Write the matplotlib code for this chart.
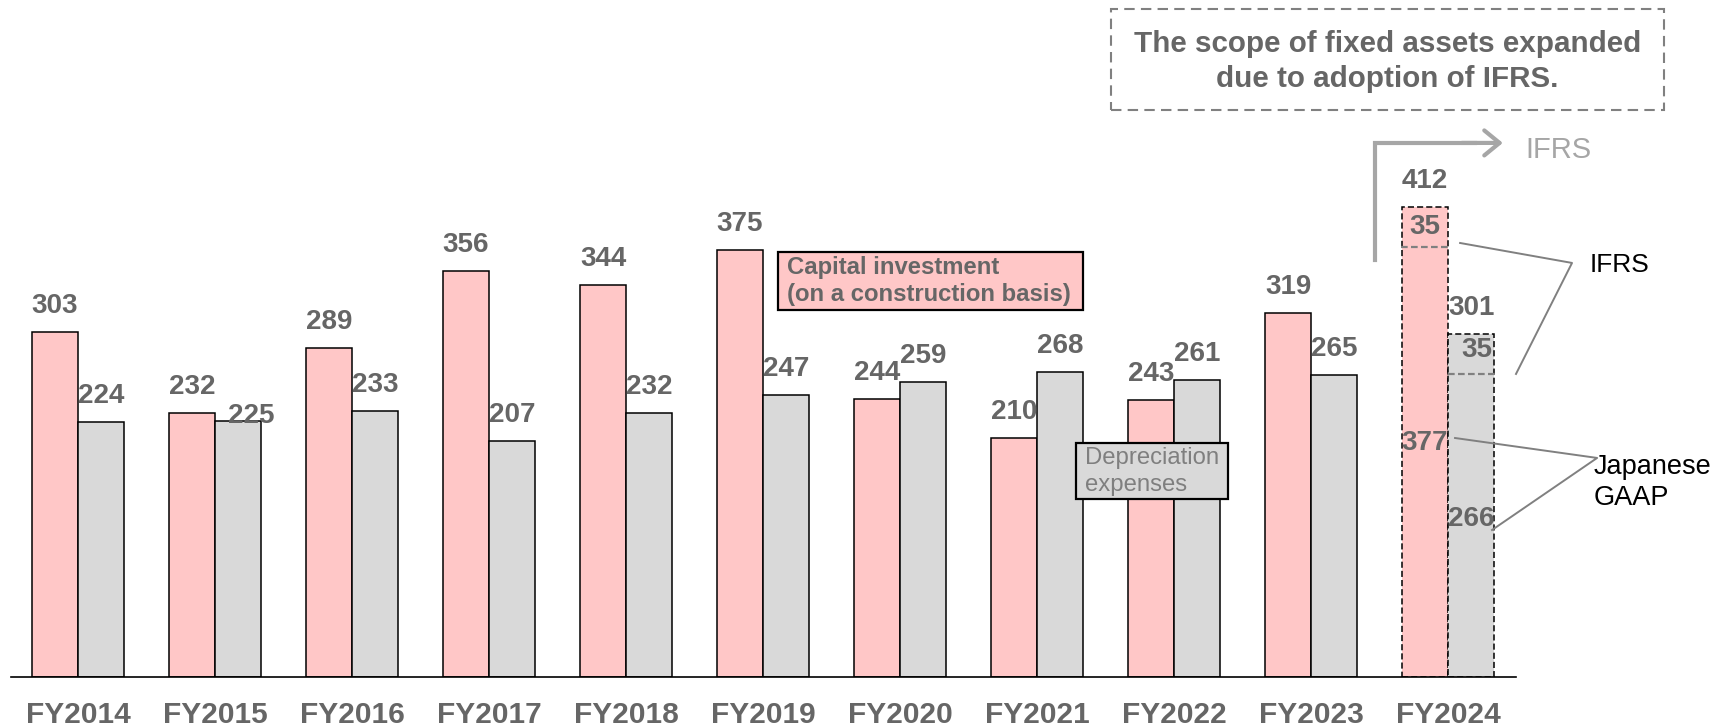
import matplotlib

matplotlib.use("Agg")
import matplotlib.pyplot as plt
import numpy as np
from matplotlib.patches import Rectangle

# values (100 million yen)
years = ["FY2014", "FY2015", "FY2016", "FY2017", "FY2018", "FY2019",
         "FY2020", "FY2021", "FY2022", "FY2023", "FY2024"]
capex = [303, 232, 289, 356, 344, 375, 244, 210, 243, 319, 412]
depreciation = [224, 225, 233, 207, 232, 247, 259, 268, 261, 265, 301]
capex_jgaap_2024 = 377
depr_jgaap_2024 = 266
ifrs_effect = [35, 35]

PINK = "#FFC7C7"
GREY = "#D9D9D9"
TEXT = "#666666"
LINE = "#808080"

plt.rcParams["font.family"] = ["Liberation Sans", "DejaVu Sans"]

fig = plt.figure(figsize=(17.22, 7.27), dpi=100)
ax = fig.add_axes([11 / 1722, 50 / 727, 1505 / 1722, 677 / 727])

x = np.arange(len(years))
w = 0.336
cap_bars = ax.bar(x - w / 2, capex, w, color=PINK, edgecolor="black", linewidth=1.1, zorder=2)
dep_bars = ax.bar(x + w / 2, depreciation, w, color=GREY, edgecolor="black", linewidth=1.1, zorder=2)
for b in (cap_bars[-1], dep_bars[-1]):
    b.set_linestyle((0, (4, 2)))

# boundary between Japanese GAAP part and IFRS adjustment in FY2024
last = x[-1]
ax.plot([last - w - 0.01, last], [capex_jgaap_2024] * 2, color=LINE, lw=1.6,
        ls=(0, (3, 1.5)), zorder=3)
ax.plot([last, last + w + 0.01], [depr_jgaap_2024] * 2, color=LINE, lw=1.6,
        ls=(0, (3, 1.5)), zorder=3)

# value labels above bars (offsets in points)
label_kw = dict(fontsize=20, fontweight="bold", color=TEXT, ha="center", va="baseline")
shift = {("dep", 1): (9.4, -1.7)}
for series, bars, vals in (("cap", cap_bars, capex), ("dep", dep_bars, depreciation)):
    for i, (b, v) in enumerate(zip(bars, vals)):
        dx, dy = shift.get((series, i), (0, 13.7))
        ax.annotate(str(v), (b.get_x() + b.get_width() / 2, v), xytext=(dx, dy),
                    textcoords="offset points", **label_kw)

# inner labels for FY2024
ax.text(last - w / 2, capex_jgaap_2024 + 12, str(ifrs_effect[0]), **label_kw, zorder=4)
ax.annotate(str(ifrs_effect[1]), (last + w / 2, depr_jgaap_2024 + 14.5), xytext=(4, 0),
            textcoords="offset points", **label_kw, zorder=4)
ax.text(last - w / 2, 199, str(capex_jgaap_2024), **label_kw, zorder=4)
ax.text(last + w / 2, 132.5, str(depr_jgaap_2024), **label_kw, zorder=4)

# legend-like boxes
ax.add_patch(Rectangle((5.109, 322), 2.227, 50.9, facecolor=PINK, edgecolor="black",
                       lw=1.6, zorder=5, clip_on=False))
ax.text(5.175, 347.5, "Capital investment\n(on a construction basis)", fontsize=17.2,
        fontweight="bold", color=TEXT, ha="left", va="center", linespacing=1.25, zorder=6)
ax.add_patch(Rectangle((7.285, 156.2), 1.109, 49.1, facecolor=GREY, edgecolor="black",
                       lw=1.6, zorder=5, clip_on=False))
ax.text(7.350, 180.7, "Depreciation\nexpenses", fontsize=17.2, color="#7F7F7F",
        ha="left", va="center", linespacing=1.3, zorder=6)

# note box at the top
ax.add_patch(Rectangle((7.540, 497.5), 4.037, 88.7, facecolor="white", edgecolor=LINE,
                       lw=1.5, ls=(0, (5, 3)), zorder=5, clip_on=False))
ax.text(9.558, 540.2, "The scope of fixed assets expanded\ndue to adoption of IFRS.",
        fontsize=21.3, fontweight="bold", color=TEXT, ha="center", va="center",
        linespacing=1.3, zorder=6)

# IFRS arrow
ax.plot([9.467, 9.467, 10.2], [365.9, 468.6, 468.6], color="#A6A6A6", lw=3,
        solid_joinstyle="miter", clip_on=False)
ax.annotate("", xy=(10.40, 468.6), xytext=(10.1, 468.6),
            arrowprops=dict(arrowstyle="->,head_length=0.55,head_width=0.45",
                            color="#A6A6A6", lw=3, mutation_scale=20,
                            shrinkA=0, shrinkB=0), annotation_clip=False)
ax.text(10.562, 462.4, "IFRS", fontsize=21, color="#A6A6A6", ha="left", va="center")

# bracket callouts
ax.plot([10.088, 10.905, 10.496], [380.8, 363.3, 265.9], color=LINE, lw=1.4, clip_on=False)
ax.plot([10.051, 11.088, 10.321], [209.7, 192.2, 129.0], color=LINE, lw=1.4, clip_on=False)
ax.text(11.036, 361.5, "IFRS", fontsize=19, color="black", ha="left", va="center")
ax.text(11.06, 170.7, "Japanese\nGAAP", fontsize=19.5, color="black", ha="left",
        va="center", linespacing=1.25)

ax.set_xlim(-0.489, 10.496)
ax.set_ylim(0, 594)
ax.set_xticks(x, years)
ax.tick_params(axis="x", length=0, pad=17, labelsize=21.5, labelcolor=TEXT)
for lab in ax.get_xticklabels():
    lab.set_fontweight("bold")
ax.set_yticks([])
for side in ("top", "left", "right"):
    ax.spines[side].set_visible(False)
ax.spines["bottom"].set_linewidth(1.2)
ax.patch.set_alpha(0)

fig.savefig("out.png", dpi=100)
